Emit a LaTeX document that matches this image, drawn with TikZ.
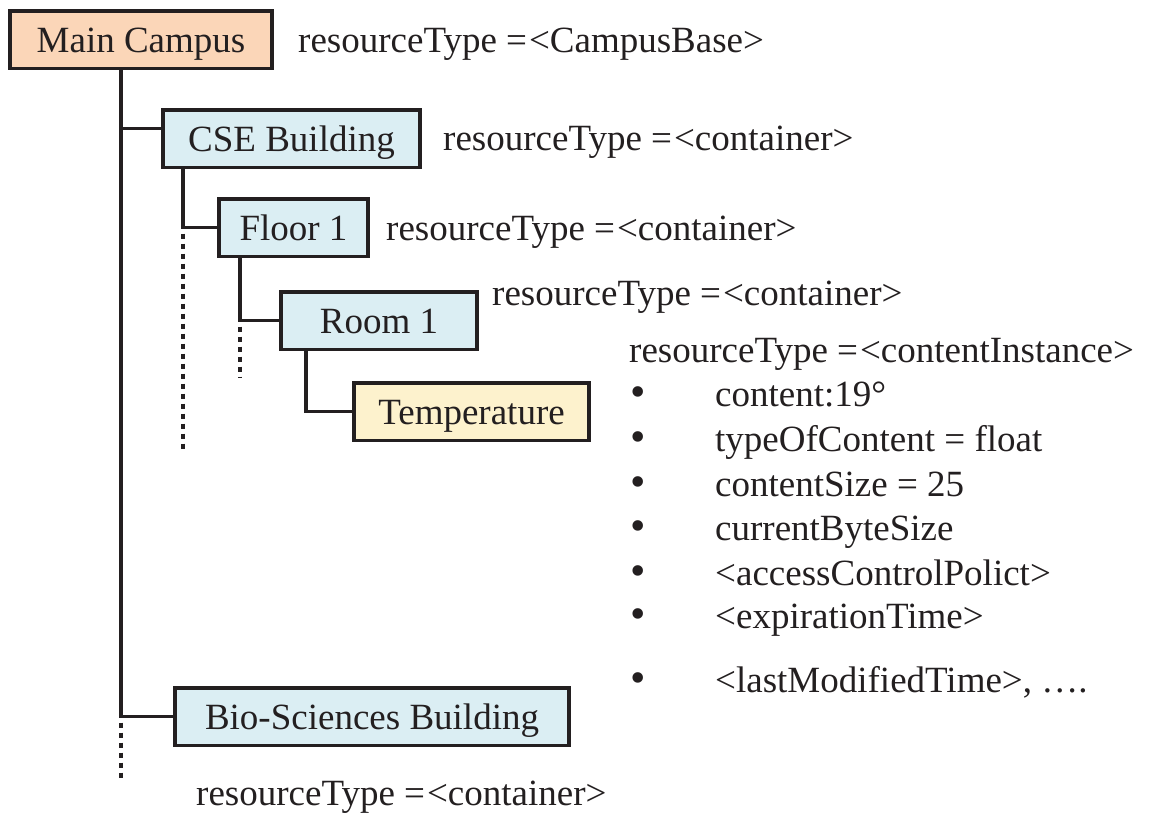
\documentclass[tikz,border=0pt]{standalone}
\usepackage{fontspec}
\setmainfont{Liberation Serif}
\usetikzlibrary{calc}
\definecolor{peach}{HTML}{FBD6B8}
\definecolor{lblue}{HTML}{DBEEF3}
\definecolor{lyellow}{HTML}{FDF2CD}
\definecolor{ink}{HTML}{231F20}
\tikzset{
  txtfont/.style={font=\fontsize{37}{44}\selectfont},
  boxnode/.style={draw=ink, line width=3.5pt, inner sep=0pt, minimum height=57.5pt,
    text height=25pt, text depth=0pt, txtfont, text=ink},
  lbl/.style={anchor=base west, inner sep=0pt, txtfont, text=ink},
  bul/.style={anchor=center, inner sep=0pt, font=\fontsize{44}{44}\selectfont, text=ink},
  conn/.style={draw=ink, line width=3.2pt},
  dotconn/.style={draw=ink, line width=3.2pt, dash pattern=on 5pt off 5pt}
}
\begin{document}
\begin{tikzpicture}[x=1pt,y=-1pt]
\useasboundingbox (0,0) rectangle (1153,814);

% boxes
\node[boxnode, fill=peach, minimum width=262pt] (main) at (141,39.5) {Main Campus};
\node[boxnode, fill=lblue, minimum width=257pt] (cse) at (291.5,138.5) {CSE Building};
\node[boxnode, fill=lblue, minimum width=149pt] (floor) at (293.5,227.5) {Floor 1};
\node[boxnode, fill=lblue, minimum width=196pt] (room) at (379,320.5) {Room 1};
\node[boxnode, fill=lyellow, minimum width=235pt] (temp) at (471.5,411.5) {Temperature};
\node[boxnode, fill=lblue, minimum width=394pt] (bio) at (372,716.5) {Bio-Sciences Building};

% connector columns
\coordinate (c0) at (121,0);
\coordinate (c1) at (183,0);
\coordinate (c2) at (240,0);
\coordinate (c3) at (306,0);
\coordinate (csein) at ($(cse.north west)!0.33!(cse.south west)$);

\draw[conn] (c0 |- main.south) |- (bio.west);
\draw[conn] (c0 |- csein) -- (csein);
\draw[dotconn] (c0 |- bio.west) ++(0,6) -- ++(0,56);

\draw[conn] (c1 |- cse.south) |- (floor.west);
\draw[dotconn] (c1 |- floor.west) ++(0,6) -- (c1 |- 0,452);

\draw[conn] (c2 |- floor.south) |- (room.west);
\draw[dotconn] (c2 |- room.west) ++(0,6) -- (c2 |- 0,377);

\draw[conn] (c3 |- room.south) |- (temp.west);

% labels
\node[lbl] (l0) at (298,52) {resourceType =\kern2pt<CampusBase>};
\node[lbl] (l1) at (443,150) {resourceType =\kern2pt<container>};
\node[lbl] (l2) at (386,240) {resourceType =\kern2pt<container>};
\node[lbl] (l3) at (492,305) {resourceType =\kern2pt<container>};
\node[lbl] (l4) at (629,362) {resourceType =\kern2pt<contentInstance>};
\node[lbl] (l5) at (196,805) {resourceType =\kern2pt<container>};

% attribute list
\foreach \y/\t [count=\i] in {406/{content:19°}, 451/{typeOfContent = float}, 496/{contentSize = 25},
  540/{currentByteSize}, 585/{<accessControlPolict>}, 628/{<expirationTime>}, 692/{<lastModifiedTime>, ….}}{
  \node[bul] (b\i) at (638,\y-9) {•};
  \node[lbl] (a\i) at (715,\y) {\t};
}
\end{tikzpicture}
\end{document}
